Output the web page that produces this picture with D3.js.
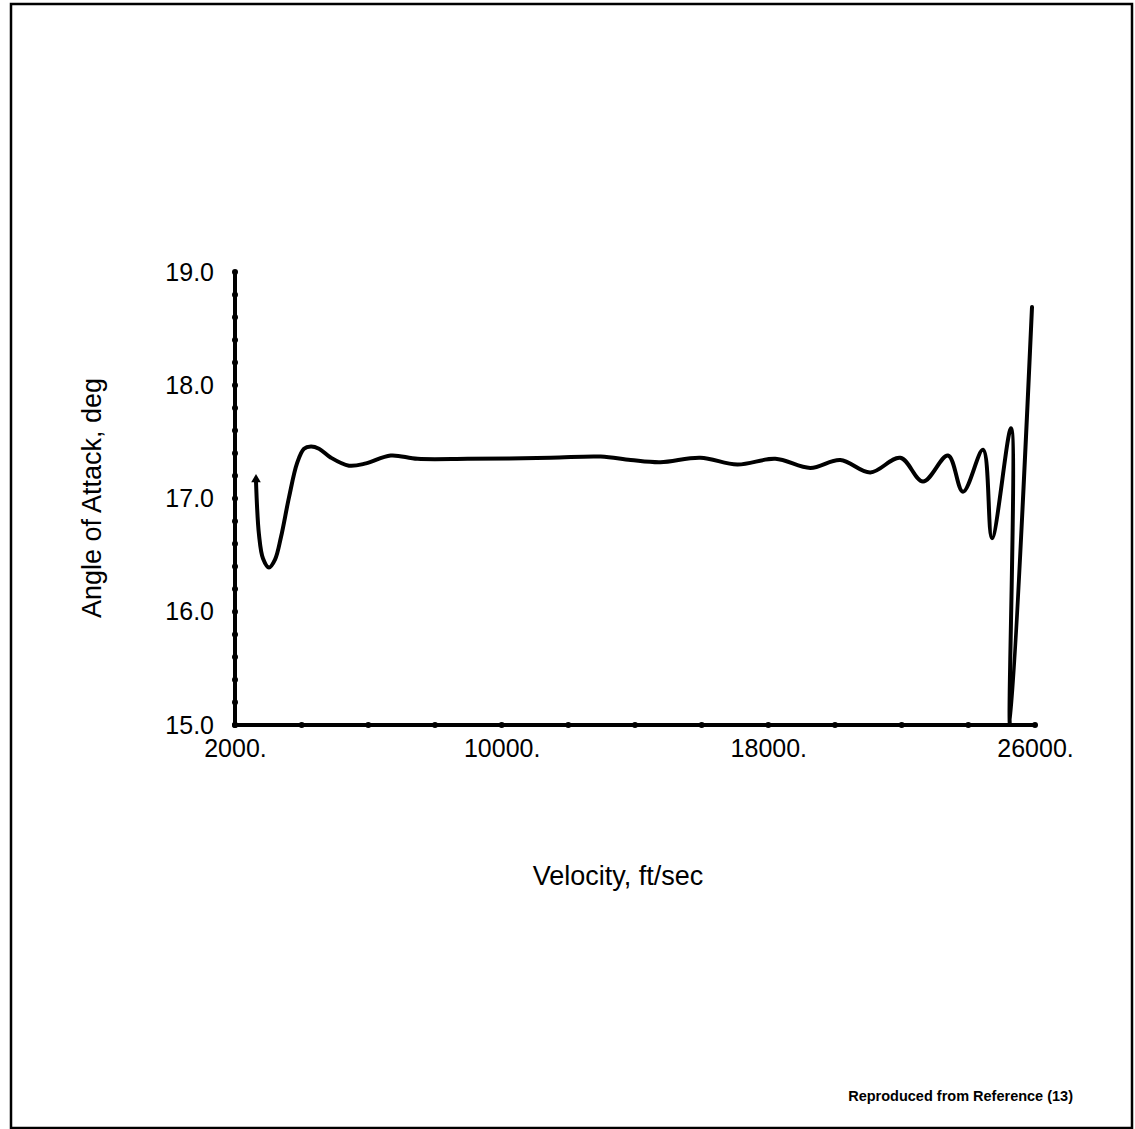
<!DOCTYPE html>
<html>
<head>
<meta charset="utf-8">
<script src="https://cdn.jsdelivr.net/npm/d3@7"></script>
<style>
  html, body { margin: 0; padding: 0; background: #fff; }
  svg { display: block; }
  text { font-family: "Liberation Sans", Arial, Helvetica, sans-serif; fill: #000; }
</style>
</head>
<body>
<svg id="chart" width="1135" height="1129"></svg>
<script>
// ---- data ----
const velocity = [2630, 2720, 2840, 3020, 3200, 3380, 3620, 3860, 4070, 4280, 4520, 4880, 5420, 5930, 6670, 7480, 8980, 11470, 12970, 13870, 14760, 15960, 17070, 18210, 19260, 20160, 21060, 21960, 22640, 23390, 23840, 24440, 24710, 25280, 25250, 25910];
const angleOfAttack = [17.15, 16.68, 16.47, 16.39, 16.46, 16.66, 17.01, 17.31, 17.44, 17.46, 17.44, 17.36, 17.29, 17.31, 17.38, 17.35, 17.35, 17.36, 17.37, 17.34, 17.32, 17.36, 17.30, 17.35, 17.27, 17.34, 17.23, 17.36, 17.15, 17.38, 17.06, 17.43, 16.65, 17.62, 15.00, 18.69];
const xTickValues = [2000, 4000, 6000, 8000, 10000, 12000, 14000, 16000, 18000, 20000, 22000, 24000, 26000];
const xTickLabels = [2000, 10000, 18000, 26000];
const yTickValues = [15.0, 15.2, 15.4, 15.6, 15.8, 16.0, 16.2, 16.4, 16.6, 16.8, 17.0, 17.2, 17.4, 17.6, 17.8, 18.0, 18.2, 18.4, 18.6, 18.8, 19.0];
const yTickLabels = [15.0, 16.0, 17.0, 18.0, 19.0];
const xTitle = "Velocity, ft/sec";
const yTitle = "Angle of Attack, deg";
const footnote = "Reproduced from Reference (13)";

// ---- drawing ----
const svg = d3.select("#chart");
const x = d3.scaleLinear().domain([2000, 26000]).range([235, 1035]);
const y = d3.scaleLinear().domain([15, 19]).range([725, 272]);

// frame
svg.append("rect")
  .attr("x", 11).attr("y", 4).attr("width", 1121).attr("height", 1124)
  .attr("fill", "none").attr("stroke", "#000").attr("stroke-width", 2.5);

// x axis
const gx = svg.append("g").attr("transform", `translate(0,${y(15)})`)
  .call(d3.axisBottom(x).tickValues(xTickLabels).tickSize(0).tickPadding(14)
    .tickFormat(d => d + "."));
gx.select(".domain").attr("stroke", "#000").attr("stroke-width", 4).attr("d", `M${x(2000)},0H${x(26000)}`);
gx.selectAll("text").attr("font-size", 25).attr("font-family", "Liberation Sans, Arial, sans-serif");
gx.selectAll(".dot").data(xTickValues).enter().append("circle")
  .attr("class", "dot").attr("cx", d => x(d)).attr("cy", 0).attr("r", 3).attr("fill", "#000");

// y axis
const gy = svg.append("g").attr("transform", `translate(${x(2000)},0)`)
  .call(d3.axisLeft(y).tickValues(yTickLabels).tickSize(0).tickPadding(21)
    .tickFormat(d3.format(".1f")));
gy.select(".domain").attr("stroke", "#000").attr("stroke-width", 4).attr("d", `M0,${y(19)}V${y(15)}`);
gy.selectAll("text").attr("font-size", 25).attr("font-family", "Liberation Sans, Arial, sans-serif");
gy.selectAll(".dot").data(yTickValues).enter().append("circle")
  .attr("class", "dot").attr("cx", 0).attr("cy", d => y(d)).attr("r", 3).attr("fill", "#000");

// curve
const pts = velocity.map((v, i) => [v, angleOfAttack[i]]);
const line = d3.line().x(d => x(d[0])).y(d => y(d[1])).curve(d3.curveCatmullRom.alpha(0.5));
svg.append("path").datum(pts).attr("d", line)
  .attr("fill", "none").attr("stroke", "#000").attr("stroke-width", 4)
  .attr("stroke-linejoin", "round").attr("stroke-linecap", "round");

// start marker (small arrow head)
const p0 = pts[0];
svg.append("path")
  .attr("d", d3.symbol().type(d3.symbolTriangle).size(40))
  .attr("transform", `translate(${x(p0[0])},${y(p0[1]) - 2})`)
  .attr("fill", "#000");

// titles
svg.append("text").attr("x", 618).attr("y", 885).attr("text-anchor", "middle")
  .attr("font-size", 27).text(xTitle);
svg.append("text").attr("transform", "translate(101,498) rotate(-90)")
  .attr("text-anchor", "middle").attr("font-size", 27).text(yTitle);
svg.append("text").attr("x", 1073).attr("y", 1101).attr("text-anchor", "end")
  .attr("font-size", 14.5).attr("font-weight", "bold").text(footnote);
</script>
</body>
</html>
